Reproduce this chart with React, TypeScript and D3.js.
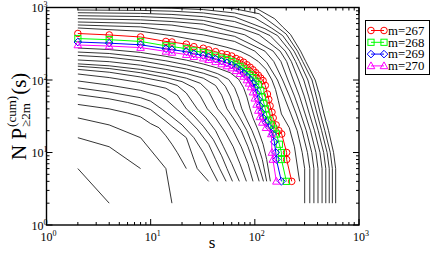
import { useEffect, useRef } from 'react';
import * as d3 from 'd3';

const W = 431;
const H = 253;

// coloured series: [s, N P(s)]
const m267 = [[2,438],[4,418],[8,392],[14,340],[16,334],[22,312],[26,288],[32,274],[36,260],[42,246],[48,230],[54,224],[60,214],[66,198],[72,188],[78,176],[84,162],[90,150],[96,138],[102,126],[108,116],[114,106],[120,98],[126,84],[132,64],[136,54],[140,44],[146,36],[150,30],[160,24],[170,20],[181,18],[202,10],[202,8],[226,4]];
const m268 = [[2,373],[4,360],[8,340],[14,296],[16,290],[22,270],[26,252],[32,240],[36,228],[42,214],[48,200],[54,192],[60,180],[66,166],[72,154],[78,142],[84,130],[90,118],[96,108],[102,96],[108,86],[114,72],[118,58],[122,48],[126,40],[130,33],[136,28],[144,24],[152,21],[161,18],[172,13],[180,10],[180,8],[201,4]];
const m269 = [[2,334],[4,322],[8,306],[14,270],[16,262],[22,246],[26,230],[32,218],[36,208],[42,194],[48,182],[54,172],[60,160],[66,148],[72,136],[78,124],[84,112],[90,102],[96,90],[100,78],[104,66],[108,54],[112,44],[116,36],[120,30],[128,26],[138,22],[148,18],[154,14],[159,10],[161,8],[180,4]];
const m270 = [[2,304],[4,294],[8,280],[14,248],[16,240],[22,224],[26,210],[32,200],[36,190],[42,178],[48,166],[54,156],[60,146],[66,134],[72,122],[78,112],[84,100],[88,90],[92,80],[96,68],[100,56],[104,46],[108,38],[112,31],[118,26],[128,22],[144,18],[146,10],[149,8],[161,4]];

const legendLabels = ['m=267', 'm=268', 'm=269', 'm=270'];
const seriesColors = ['#ff0000', '#00ff00', '#0000ff', '#ff00ff'];
const seriesShapes = ['circle', 'square', 'diamond', 'triangle'];

// black curves for the other m, below the coloured band
const lowerCurves = [
  [[2,6],[4,2]],
  [[2,16],[4,12],[8,6]],
  [[2,30],[4,24],[8,16],[14,6],[16,2]],
  [[2,46],[4,40],[6,35],[8,31],[10,25],[12,22],[14,17],[16,13],[18,10],[22,6]],
  [[2,63],[4,55],[6,49],[8,44],[10,39],[14,27],[16,23],[22,16],[26,8],[28,6],[36,4]],
  [[2,78],[4,68],[8,57],[10,51],[13,39],[16,31],[20,24],[26,16],[32,10],[38,6],[44,4]],
  [[2,97],[4,85],[8,72],[12,61],[14,54],[18,39],[22,30],[28,21],[36,13],[42,8],[46,6],[53,4]],
  [[2,121],[4,108],[8,92],[14,77],[18,62],[22,40],[26,32],[32,23],[40,15],[48,9],[54,6],[61,4]],
  [[2,140],[4,128],[8,110],[14,94],[18,84],[22,66],[28,40],[34,30],[42,20],[50,12],[60,7],[71,4]],
  [[2,155],[4,144],[8,126],[14,108],[20,95],[26,78],[30,60],[35,40],[42,30],[52,19],[62,12],[72,7],[83,4]],
  [[2,167],[4,157],[8,140],[14,122],[22,106],[30,90],[36,70],[44,40],[52,30],[62,20],[74,12],[86,7],[96,4]],
  [[2,189],[4,179],[8,160],[14,140],[22,123],[32,106],[42,84],[48,62],[54,40],[62,30],[74,20],[86,12],[98,7],[110,4]],
  [[2,218],[4,206],[8,184],[14,160],[22,142],[32,124],[44,106],[52,82],[58,60],[64,40],[72,30],[84,20],[96,12],[108,7],[121,4]],
  [[2,243],[4,232],[8,208],[14,184],[22,162],[32,142],[44,122],[56,102],[64,78],[70,56],[75,40],[82,30],[94,20],[106,13],[118,8],[130,4]],
  [[2,276],[4,263],[8,240],[14,212],[22,188],[32,166],[44,146],[58,126],[70,102],[78,78],[84,58],[90,40],[96,30],[108,20],[120,13],[130,8],[141,4]],
];

// black curves above the coloured band
const upperCurves = [
  [[2,522],[8,470],[16,408],[32,340],[54,282],[72,250],[90,214],[108,180],[128,140],[146,100],[158,74],[168,52],[180,34],[214,22],[240,12],[269,4]],
  [[2,574],[8,540],[12,500],[16,478],[32,420],[64,340],[100,250],[130,175],[165,100],[190,60],[220,35],[255,20],[285,10],[301,6],[301,2]],
  [[2,631],[8,604],[16,572],[30,500],[64,400],[125,250],[152,180],[185,100],[215,60],[248,35],[284,20],[320,10],[337,6],[337,2]],
  [[2,701],[8,676],[16,640],[32,590],[50,500],[80,420],[150,250],[178,180],[208,100],[240,60],[274,35],[312,20],[352,10],[369,6],[369,2]],
  [[2,771],[8,750],[16,718],[32,664],[75,510],[110,420],[175,250],[202,180],[234,100],[268,60],[302,35],[342,20],[386,10],[404,6],[404,2]],
  [[2,847],[8,830],[16,802],[32,748],[64,640],[100,510],[140,410],[196,250],[224,180],[263,100],[298,60],[332,35],[374,20],[422,10],[442,6],[442,2]],
  [[2,924],[8,912],[16,890],[32,842],[64,740],[125,510],[165,410],[218,250],[246,180],[295,100],[328,60],[364,35],[406,20],[458,10],[480,6],[480,2]],
  [[2,1000],[8,992],[16,976],[32,936],[64,840],[100,720],[145,520],[185,410],[238,250],[268,180],[323,100],[358,60],[394,35],[438,20],[494,10],[518,6],[518,2]],
  [[2,1100],[16,1084],[32,1048],[64,960],[110,820],[163,540],[200,430],[257,250],[288,180],[354,100],[388,60],[424,35],[470,20],[530,10],[555,6],[555,2]],
  [[2,1220],[16,1210],[32,1186],[64,1110],[100,1000],[155,700],[185,540],[220,425],[275,250],[308,180],[380,100],[420,60],[460,35],[510,20],[570,10],[597,6],[597,2]],
];

const xTickExps = [0, 1, 2, 3];
const yTickExps = [0, 1, 2, 3];

const font = 'Liberation Serif, Times New Roman, serif';

function drawMarker(g, shape, cx, cy, color) {
  if (shape === 'circle') {
    g.append('circle').attr('cx', cx).attr('cy', cy).attr('r', 3.3)
      .attr('fill', 'none').attr('stroke', color).attr('stroke-width', 1);
  } else if (shape === 'square') {
    g.append('rect').attr('x', cx - 3.1).attr('y', cy - 3.1).attr('width', 6.2).attr('height', 6.2)
      .attr('fill', 'none').attr('stroke', color).attr('stroke-width', 1);
  } else if (shape === 'diamond') {
    g.append('path').attr('d', `M${cx},${cy - 3.8}L${cx + 3.8},${cy}L${cx},${cy + 3.8}L${cx - 3.8},${cy}Z`)
      .attr('fill', 'none').attr('stroke', color).attr('stroke-width', 1);
  } else {
    g.append('path').attr('d', `M${cx},${cy - 4}L${cx + 3.8},${cy + 2.8}L${cx - 3.8},${cy + 2.8}Z`)
      .attr('fill', 'none').attr('stroke', color).attr('stroke-width', 1);
  }
}

export default function App() {
  const svgRef = useRef(null);

  useEffect(() => {
    const svg = d3.select(svgRef.current);
    svg.selectAll('*').remove();

    const x = d3.scaleLog().domain([1, 1000]).range([46.5, 359]);
    const y = d3.scaleLog().domain([1, 1000]).range([225, 7.5]);
    const [x0, x1] = x.range();
    const [y0, y1] = y.range();

    svg.append('rect').attr('width', W).attr('height', H).attr('fill', '#fff');

    svg.append('defs').append('clipPath').attr('id', 'plot-clip')
      .append('rect').attr('x', x0).attr('y', y1).attr('width', x1 - x0).attr('height', y0 - y1);

    const line = d3.line().x(d => x(d[0])).y(d => y(d[1]));
    const plot = svg.append('g').attr('clip-path', 'url(#plot-clip)');

    // background curves
    plot.selectAll('path.bg')
      .data([...lowerCurves, ...upperCurves])
      .join('path')
      .attr('class', 'bg')
      .attr('d', line)
      .attr('fill', 'none')
      .attr('stroke', '#111')
      .attr('stroke-width', 0.85);

    // coloured series with markers
    const series = [m267, m268, m269, m270];
    series.forEach((data, i) => {
      plot.append('path').datum(data).attr('d', line)
        .attr('fill', 'none').attr('stroke', seriesColors[i]).attr('stroke-width', 1);
      data.forEach(d => drawMarker(plot, seriesShapes[i], x(d[0]), y(d[1]), seriesColors[i]));
    });

    // ticks on all four sides, pointing inward
    const isMajor = t => Math.abs(Math.log10(t) - Math.round(Math.log10(t))) < 1e-9;
    const ax = svg.append('g').attr('stroke', '#000').attr('stroke-width', 1);
    x.ticks().forEach(t => {
      const len = isMajor(t) ? 6 : 3;
      const px = x(t);
      ax.append('line').attr('x1', px).attr('x2', px).attr('y1', y0).attr('y2', y0 - len);
      ax.append('line').attr('x1', px).attr('x2', px).attr('y1', y1).attr('y2', y1 + len);
    });
    y.ticks().forEach(t => {
      const len = isMajor(t) ? 6 : 3;
      const py = y(t);
      ax.append('line').attr('x1', x0).attr('x2', x0 + len).attr('y1', py).attr('y2', py);
      ax.append('line').attr('x1', x1).attr('x2', x1 - len).attr('y1', py).attr('y2', py);
    });

    svg.append('rect').attr('x', x0).attr('y', y1).attr('width', x1 - x0).attr('height', y0 - y1)
      .attr('fill', 'none').attr('stroke', '#000').attr('stroke-width', 1.4);

    // tick labels
    xTickExps.forEach(e => {
      const t = svg.append('text').attr('x', x(10 ** e) + 2).attr('y', 241)
        .attr('text-anchor', 'middle').attr('font-family', font).attr('font-size', 12);
      t.append('tspan').text('10');
      t.append('tspan').attr('dy', -5).attr('font-size', 8).text(String(e));
    });
    yTickExps.forEach(e => {
      const t = svg.append('text').attr('x', 47.5).attr('y', y(10 ** e) + 4.5)
        .attr('text-anchor', 'end').attr('font-family', font).attr('font-size', 12);
      t.append('tspan').text('10');
      t.append('tspan').attr('dy', -5).attr('font-size', 8).text(String(e));
    });

    // axis titles
    svg.append('text').attr('x', 212).attr('y', 248).attr('text-anchor', 'middle')
      .attr('font-family', font).attr('font-size', 17).text('s');

    const yt = svg.append('g').attr('transform', 'translate(26,0) rotate(-90)')
      .attr('font-family', font);
    const start = -160;
    const main = yt.append('text').attr('x', start).attr('y', 0).attr('font-size', 21).text('N P');
    const l1 = main.node().getComputedTextLength();
    const sub = yt.append('text').attr('x', start + l1 + 1).attr('y', 4).attr('font-size', 13).text('\u22652m');
    const sup = yt.append('text').attr('x', start + l1 + 1).attr('y', -10).attr('font-size', 13).text('(cum)');
    const l2 = Math.max(sub.node().getComputedTextLength(), sup.node().getComputedTextLength());
    yt.append('text').attr('x', start + l1 + l2 + 2).attr('y', 0).attr('font-size', 21).text('(s)');

    // legend
    const lg = svg.append('g');
    lg.append('rect').attr('x', 365.5).attr('y', 20.5).attr('width', 64).attr('height', 54)
      .attr('fill', '#fff').attr('stroke', '#000').attr('stroke-width', 1);
    legendLabels.forEach((label, i) => {
      const cy = 30.5 + i * 11.8;
      lg.append('line').attr('x1', 371).attr('x2', 384).attr('y1', cy).attr('y2', cy)
        .attr('stroke', seriesColors[i]).attr('stroke-width', 1);
      drawMarker(lg, seriesShapes[i], 371, cy, seriesColors[i]);
      drawMarker(lg, seriesShapes[i], 384, cy, seriesColors[i]);
      lg.append('text').attr('x', 388).attr('y', cy + 4.2)
        .attr('font-family', font).attr('font-size', 12.8).text(label);
    });
  }, []);

  return (
    <svg ref={svgRef} width={W} height={H}
      style={{ position: 'absolute', left: 0, top: 0, display: 'block' }} />
  );
}
